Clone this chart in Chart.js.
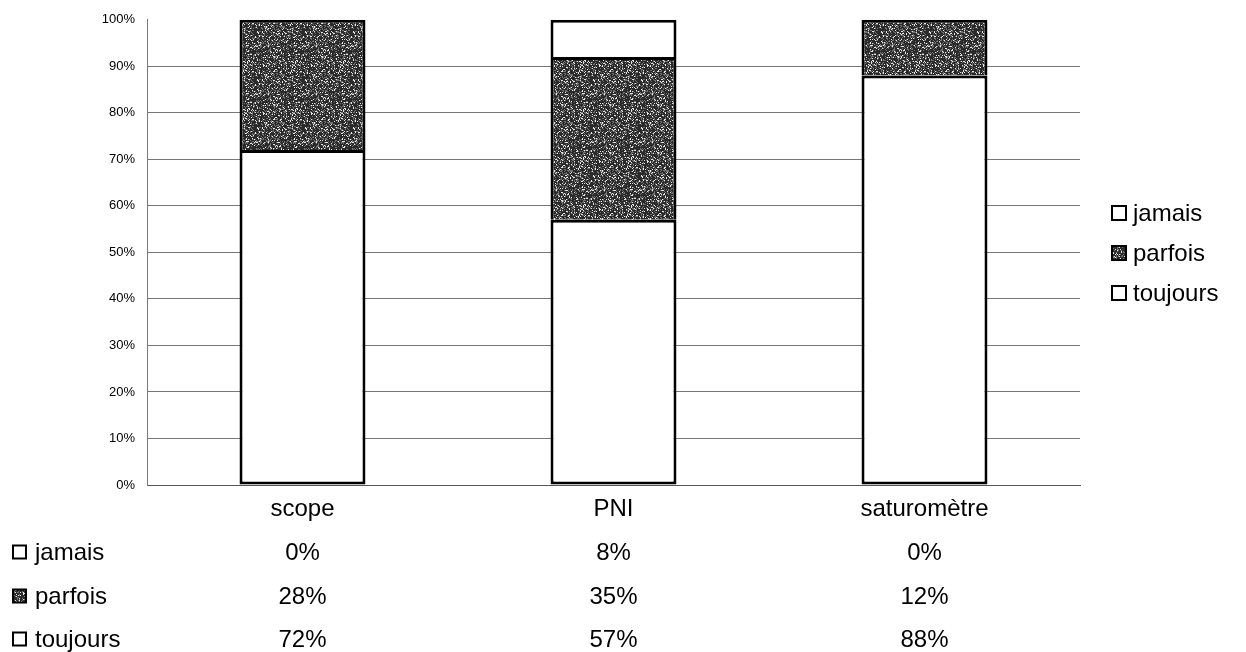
<!DOCTYPE html>
<html>
<head>
<meta charset="utf-8">
<script src="https://cdn.jsdelivr.net/npm/chart.js@4.4.0/dist/chart.umd.min.js"></script>
<style>
  html, body { margin: 0; padding: 0; background: #fff; }
  #wrap { width: 1246px; height: 652px; }
</style>
</head>
<body>
<div id="wrap"><canvas id="chart"></canvas></div>
<script>
// données
const categories = ["scope", "PNI", "saturomètre"];
const toujours = [72, 57, 88];
const parfois = [28, 35, 12];
const jamais = [0, 8, 0];
const yTicks = [0, 10, 20, 30, 40, 50, 60, 70, 80, 90, 100];

const FONT = 'Arial, "Liberation Sans", sans-serif';

// texture grise tachetée pour "parfois"
function makeSpeckle() {
  const c = document.createElement("canvas");
  c.width = c.height = 48;
  const g = c.getContext("2d");
  g.fillStyle = "#2a2a2a";
  g.fillRect(0, 0, 48, 48);
  let s = 12345;
  for (let i = 0; i < 1000; i++) {
    s = (Math.imul(s, 1103515245) + 12345) >>> 0;
    const x = (s >>> 8) % 48;
    s = (Math.imul(s, 1103515245) + 12345) >>> 0;
    const y = (s >>> 8) % 48;
    g.fillStyle = i % 3 ? "#707070" : "#e4e4e4";
    g.fillRect(x, y, 1, 1);
  }
  return g.createPattern(c, "repeat");
}
const speckle = makeSpeckle();

// lignes du tableau (ordre du haut vers le bas)
const tableRows = [
  { name: "jamais", values: jamais, fill: "#fff" },
  { name: "parfois", values: parfois, fill: speckle },
  { name: "toujours", values: toujours, fill: "#fff" },
];

function drawBox(ctx, x, yc, size, fill) {
  ctx.fillStyle = fill;
  ctx.fillRect(x, yc - size / 2, size, size);
  ctx.strokeStyle = "#000";
  ctx.lineWidth = 2;
  ctx.strokeRect(x, yc - size / 2, size, size);
}

const tableLegend = {
  id: "tableLegend",
  afterDraw(chart) {
    const ctx = chart.ctx;
    const xs = chart.scales.x;
    ctx.save();
    ctx.font = "24px " + FONT;
    ctx.textBaseline = "middle";
    const rowY = [552, 596, 639];
    const legY = [213, 253, 293];
    tableRows.forEach((row, r) => {
      // tableau de données
      drawBox(ctx, 13, rowY[r], 13, row.fill);
      ctx.fillStyle = "#000";
      ctx.textAlign = "left";
      ctx.fillText(row.name, 35, rowY[r] + 1);
      ctx.textAlign = "center";
      row.values.forEach((v, i) => {
        ctx.fillText(v + "%", xs.getPixelForValue(i), rowY[r] + 1);
      });
      // légende à droite
      drawBox(ctx, 1112, legY[r], 14, row.fill);
      ctx.fillStyle = "#000";
      ctx.textAlign = "left";
      ctx.fillText(row.name, 1133, legY[r] + 1);
    });
    ctx.restore();
  },
};

const barStyle = (skip) => ({
  borderColor: "#000",
  borderWidth: c => (c.raw ? 3 : 0),
  borderSkipped: skip,
  barPercentage: 0.81,
  categoryPercentage: 0.5,
});

new Chart(document.getElementById("chart"), {
  type: "bar",
  data: {
    labels: categories,
    datasets: [
      Object.assign({ label: "toujours", data: toujours, backgroundColor: "#fff" }, barStyle(false)),
      Object.assign({ label: "parfois", data: parfois, backgroundColor: speckle }, barStyle("start")),
      Object.assign({ label: "jamais", data: jamais, backgroundColor: "#fff" }, barStyle("start")),
    ],
  },
  options: {
    responsive: true,
    maintainAspectRatio: false,
    animation: false,
    layout: { padding: { top: 18, right: 166, bottom: 0, left: 0 } },
    plugins: {
      legend: { display: false },
      tooltip: { enabled: false },
    },
    scales: {
      x: {
        stacked: true,
        grid: { display: false, drawTicks: false },
        border: { color: "#555", width: 1 },
        ticks: { color: "#000", font: { family: FONT, size: 24 }, padding: 10 },
        afterFit(scale) { scale.height = 167; },
      },
      y: {
        stacked: true,
        min: 0,
        max: 100,
        afterBuildTicks(scale) { scale.ticks = yTicks.map(v => ({ value: v })); },
        grid: {
          drawTicks: false,
          color: ctx => (ctx.tick && (ctx.tick.value === 100 || ctx.tick.value === 0)) ? "rgba(0,0,0,0)" : "#777",
          lineWidth: 1,
        },
        border: { color: "#777", width: 1 },
        ticks: {
          color: "#000",
          font: { family: FONT, size: 13 },
          padding: 12,
          callback: v => v + "%",
        },
        afterFit(scale) { scale.width = 147; },
      },
    },
  },
  plugins: [tableLegend],
});
</script>
</body>
</html>
